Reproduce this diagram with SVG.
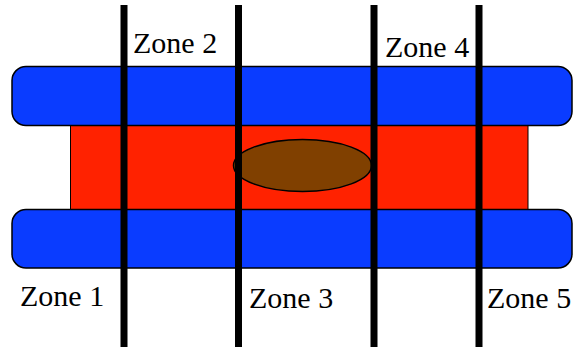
<svg xmlns="http://www.w3.org/2000/svg" width="573" height="347" viewBox="0 0 573 347">
<style>
.bar{fill:#0a3cff;stroke:#000;stroke-width:1.5}
.core{fill:#ff2200;stroke:#000;stroke-width:1}
.blob{fill:#804000;stroke:#000;stroke-width:1.5}
.zl{stroke:#000;stroke-width:7}
.lbl{font-family:"Liberation Serif","Times New Roman",serif;font-size:30px;fill:#000}
</style>
<rect width="573" height="347" fill="#fff"/>
<g id="core"><rect class="core" x="70.5" y="124" width="457.5" height="88"/></g>
<g id="topbar"><rect class="bar" x="12" y="66.5" width="560" height="59" rx="14" ry="14"/></g>
<g id="bottombar"><rect class="bar" x="12" y="209.5" width="560" height="58.5" rx="14" ry="14"/></g>
<g id="blob"><ellipse class="blob" cx="302.5" cy="165.5" rx="69" ry="26"/></g>
<g id="connectors">
<line class="zl" x1="124" y1="5" x2="124" y2="347"/>
<line class="zl" x1="238.5" y1="5" x2="238.5" y2="347"/>
<line class="zl" x1="374" y1="5" x2="374" y2="347"/>
<line class="zl" x1="479" y1="5" x2="479" y2="347"/>
</g>
<g id="labels">
<text class="lbl" x="20" y="306">Zone 1</text>
<text class="lbl" x="133" y="53">Zone 2</text>
<text class="lbl" x="249" y="308">Zone 3</text>
<text class="lbl" x="385" y="57">Zone 4</text>
<text class="lbl" x="487" y="308">Zone 5</text>
</g>
</svg>
